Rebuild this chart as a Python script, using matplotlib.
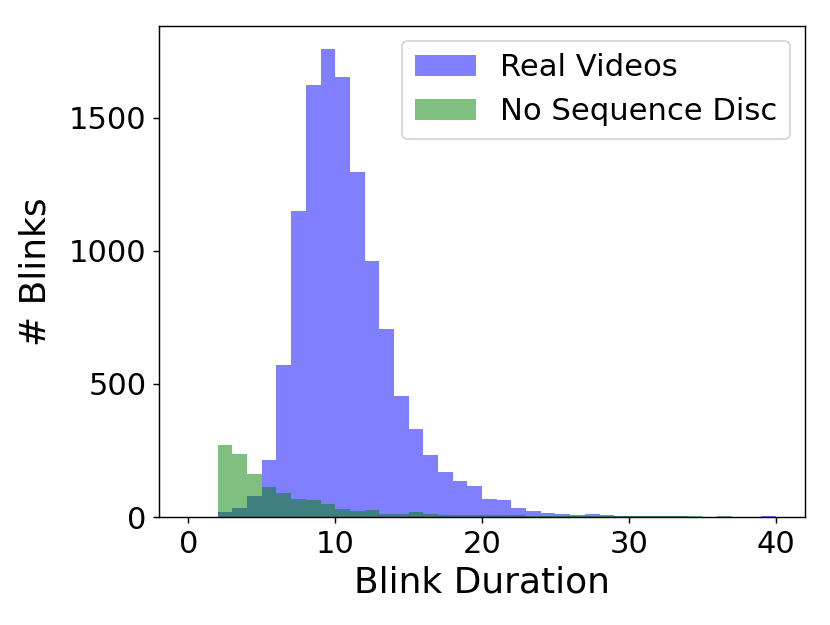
import numpy as np
import matplotlib
matplotlib.use('Agg')
import matplotlib.pyplot as plt

# bin edges 0..40, width 1
edges = np.arange(0, 41)

real_counts = [0, 0, 19, 32, 77, 213, 569, 1149, 1622, 1758,
               1652, 1296, 961, 706, 456, 331, 232, 170, 136, 116,
               68, 62, 33, 23, 16, 13, 8, 13, 8, 4,
               3, 3, 3, 2, 1, 1, 1, 1, 0, 3]
noseq_counts = [0, 0, 272, 238, 160, 111, 90, 68, 63, 47,
                29, 24, 28, 13, 13, 18, 13, 8, 9, 9,
                9, 8, 8, 5, 4, 5, 3, 3, 2, 2,
                2, 2, 2, 2, 3, 1, 3, 1, 0, 0]

centers = edges[:-1] + 0.5

fig = plt.figure(figsize=(6.4, 4.82), dpi=129.6875)
ax = fig.add_axes([0.1916, 0.1728, 0.7784, 0.7862])
ax.hist(centers, bins=edges, weights=real_counts, color='blue', alpha=0.5, label='Real Videos')
ax.hist(centers, bins=edges, weights=noseq_counts, color='green', alpha=0.5, label='No Sequence Disc')

ax.set_xticks([0, 10, 20, 30, 40])
ax.set_yticks([0, 500, 1000, 1500])
ax.tick_params(labelsize=17)
ax.set_xlabel('Blink Duration', fontsize=20)
ax.set_ylabel('# Blinks', fontsize=20, labelpad=9)
ax.legend(loc='upper right', fontsize=17)

plt.savefig('out.png')
